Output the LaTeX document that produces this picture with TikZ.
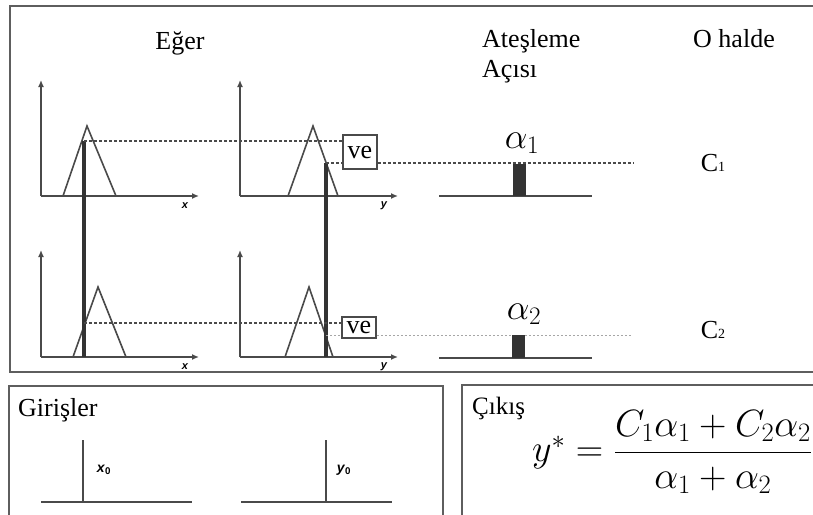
\RequirePackage{fix-cm}
\documentclass[tikz,border=0pt]{standalone}
\usepackage{amsmath}
\usepackage{fontspec}
\setmainfont{Liberation Serif}
\setsansfont{Liberation Sans}
\usetikzlibrary{arrows.meta,positioning}
\definecolor{lineg}{HTML}{4A4A4A}
\definecolor{frameg}{HTML}{5E5E5E}
\tikzset{
  frame/.style={draw=frameg, line width=2pt},
  axis/.style={draw=lineg, line width=1.7pt, -{Latex[length=7pt,width=6pt]}},
  mf/.style={draw=lineg, line width=1.6pt},
  crisp/.style={draw=black!80, line width=3.5pt},
  lvl/.style={draw=lineg, line width=1.3pt, dash pattern=on 3pt off 2pt},
  lvlb/.style={draw=black!35, line width=1pt, dash pattern=on 2pt off 2pt},
  andbox/.style={draw=lineg, line width=1.8pt, fill=white, inner sep=0pt, minimum width=34pt, font=\fontsize{26}{26}\selectfont},
  ttl/.style={font=\fontsize{26}{30}\selectfont, inner sep=0pt},
  axlbl/.style={font=\sffamily\bfseries\itshape\fontsize{11}{11}\selectfont, inner sep=0pt},
  inlbl/.style={font=\sffamily\bfseries\fontsize{14}{14}\selectfont, inner sep=0pt},
  big/.style={font=\fontsize{36}{36}\selectfont, inner sep=0pt}
}

\begin{document}
\begin{tikzpicture}[x=1pt, y=-1pt]
\useasboundingbox (0,0) rectangle (813,514);
\clip (0,0) rectangle (813,514);

% frames
\draw[frame] (10,6) rectangle (830,372);
\draw[frame] (9,386) rectangle (443,530);
\draw[frame] (462,385) rectangle (830,530);

% headings
\node[ttl] (eger) at (180,43) {Eğer};
\node[ttl, anchor=base west] (ates) at (482,47) {Ateşleme};
\node[ttl, anchor=base west] (acisi) at (482,77) {Açısı};
\node[ttl, anchor=base west] (ohalde) at (693,47) {O halde};

% axes of the four membership plots
\foreach \ox/\oy/\h/\nm in {41/196/116/x, 240/196/116/y, 41/357/107/x, 240/357/107/y}{
  \draw[axis] (\ox,\oy) -- (\ox,\oy-\h);
  \draw[axis] (\ox,\oy) -- (\ox+158,\oy);
  \node[axlbl] at (\ox+144,\oy+10) {\nm};
}

% triangles
\draw[mf] (63,196) -- (87,126) -- (116,196);
\draw[mf] (288,196) -- (313,126) -- (338,196);
\draw[mf] (73,357) -- (98,287) -- (126,357);
\draw[mf] (285,357) -- (309,287) -- (333,357);

% crisp inputs and cut levels
\coordinate (mux1) at (84,141);
\coordinate (muy1) at (326,163);
\coordinate (mux2) at (84,323);
\coordinate (muy2) at (326,335);
\draw[crisp] (mux1) -- (84,357);
\draw[crisp] (muy1) -- (326,357);

\node[andbox, minimum height=34pt] (ve1) at (360,152) {ve};
\node[andbox, minimum height=21pt] (ve2) at (359,327.5) {ve};

\coordinate (end1) at (633,163);
\coordinate (end2) at (632,335);
\draw[lvl] (mux1) -- (mux1 -| ve1.west);
\draw[lvl] (muy1) -- (muy1 -| ve1.west);
\draw[lvl] (muy1 -| ve1.east) -- (end1);
\draw[lvl] (mux2) -- (mux2 -| ve2.west);
\draw[lvlb] (muy2) -- (muy2 -| ve2.west);
\draw[lvlb] (muy2 -| ve2.east) -- (end2);

% firing strengths
\draw[mf, line width=1.8pt] (439,196) -- (592,196);
\fill[black!80] (513,164) rectangle (526,196);
\draw[mf, line width=1.8pt] (439,358) -- (592,358);
\fill[black!80] (512,335) rectangle (525,358);
\node[big] (a1) at (522,143) {$\alpha_1$};
\node[big] (a2) at (524,314) {$\alpha_2$};
\node[ttl] (c1) at (713,163) {C{\fontsize{14}{14}\selectfont 1}};
\node[ttl] (c2) at (713,330) {C{\fontsize{14}{14}\selectfont 2}};

% inputs
\node[ttl, anchor=west] (gir) at (18,410) {Girişler};
\draw[mf, line width=2pt] (41,502) -- (192,502);
\draw[mf, line width=2.6pt] (83,440) -- (83,502);
\node[inlbl] (x0) at (104,470) {\textit{x}\textsubscript{0}};
\draw[mf, line width=2pt] (241,502) -- (392,502);
\draw[mf, line width=2.6pt] (326,440) -- (326,502);
\node[inlbl] (y0) at (344,470) {\textit{y}\textsubscript{0}};

% output
\node[font=\fontsize{25}{25}\selectfont, inner sep=0pt, anchor=west] (cikis) at (472,408) {Çıkış};
\node[big, font=\fontsize{38}{38}\selectfont] (yout) at (672,452) {$y^{*}=\dfrac{C_1\alpha_1+C_2\alpha_2}{\alpha_1+\alpha_2}$};
\end{tikzpicture}
\end{document}
